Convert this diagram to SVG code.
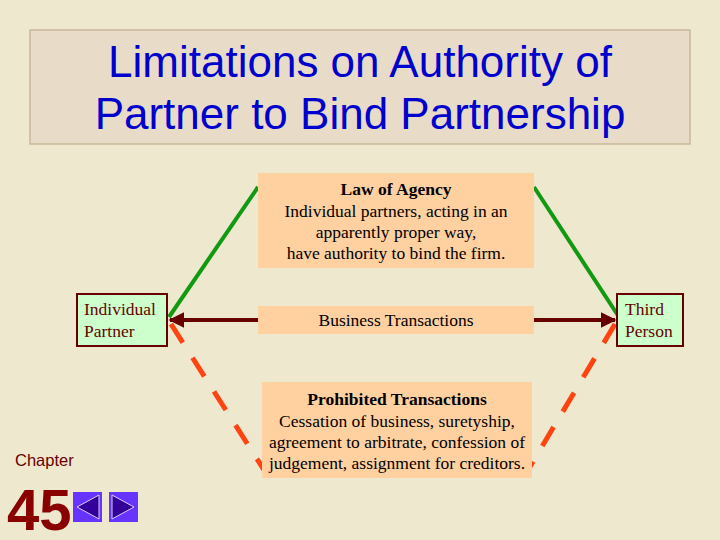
<svg xmlns="http://www.w3.org/2000/svg" width="720" height="540" viewBox="0 0 720 540">
<defs>
<style>
.t{font-family:"Liberation Serif",serif;font-size:17.5px;fill:#000;text-anchor:middle}
.n{font-family:"Liberation Serif",serif;font-size:17.5px;fill:#660000}
.box{fill:#FFD0A0}
.nb{fill:#CCFFCC;stroke:#660000;stroke-width:2}
</style>
<marker id="ar" viewBox="0 0 10 10" refX="9" refY="5" markerWidth="4" markerHeight="4" orient="auto"><path d="M0,0L10,5L0,10z" fill="#660000"/></marker>
</defs>
<rect width="720" height="540" fill="#EEE8CF"/>
<g id="title">
<rect x="30" y="30" width="660" height="114" fill="#E8DCC8" stroke="#C8B89A" stroke-width="1.5"/>
<text x="360" y="77" font-family="Liberation Sans,sans-serif" font-size="44" fill="#0000CC" text-anchor="middle">Limitations on Authority of</text>
<text x="360" y="129" font-family="Liberation Sans,sans-serif" font-size="44" fill="#0000CC" text-anchor="middle">Partner to Bind Partnership</text>
</g>
<g id="connectors">
<line x1="169" y1="317" x2="258" y2="187" stroke="#119911" stroke-width="4"/>
<line x1="534" y1="187" x2="619" y2="317" stroke="#119911" stroke-width="4"/>
<line x1="258" y1="320" x2="170" y2="320" stroke="#660000" stroke-width="4" marker-end="url(#ar)"/>
<line x1="534" y1="320" x2="615" y2="320" stroke="#660000" stroke-width="4" marker-end="url(#ar)"/>
<line x1="171" y1="324" x2="264" y2="470" stroke="#FF4411" stroke-width="5" stroke-dasharray="22,18"/>
<line x1="615" y1="324" x2="528" y2="470" stroke="#FF4411" stroke-width="5" stroke-dasharray="22,18"/>
</g>
<g id="law">
<rect class="box" x="258" y="173" width="276" height="95"/>
<text class="t" x="396" y="195" font-weight="bold">Law of Agency</text>
<text class="t" x="396" y="217">Individual partners, acting in an</text>
<text class="t" x="396" y="238">apparently proper way,</text>
<text class="t" x="396" y="259">have authority to bind the firm.</text>
</g>
<g id="business">
<rect class="box" x="258" y="306" width="276" height="28"/>
<text class="t" x="396" y="326">Business Transactions</text>
</g>
<g id="prohibited">
<rect class="box" x="262" y="382" width="270" height="96"/>
<text class="t" x="397" y="405" font-weight="bold">Prohibited Transactions</text>
<text class="t" x="397" y="427">Cessation of business, suretyship,</text>
<text class="t" x="397" y="448">agreement to arbitrate, confession of</text>
<text class="t" x="397" y="469">judgement, assignment for creditors.</text>
</g>
<g id="partner">
<rect class="nb" x="77" y="294" width="90" height="52"/>
<text class="n" x="84" y="315">Individual</text>
<text class="n" x="84" y="337">Partner</text>
</g>
<g id="third">
<rect class="nb" x="617" y="294" width="66" height="52"/>
<text class="n" x="625" y="315">Third</text>
<text class="n" x="625" y="337">Person</text>
</g>
<g id="chapter">
<text x="15" y="466" font-family="Liberation Sans,sans-serif" font-size="16.5" fill="#660000">Chapter</text>
<text x="7" y="530" font-family="Liberation Sans,sans-serif" font-size="58" font-weight="bold" fill="#880000">45</text>
<rect x="73" y="492" width="29" height="30" fill="#6633FF"/>
<path d="M77,507L99,495V519z" fill="#330099" stroke="#DDCCFF" stroke-width="1"/>
<rect x="109" y="492" width="29" height="30" fill="#6633FF"/>
<path d="M134,507L112,495V519z" fill="#330099" stroke="#DDCCFF" stroke-width="1"/>
</g>
</svg>
